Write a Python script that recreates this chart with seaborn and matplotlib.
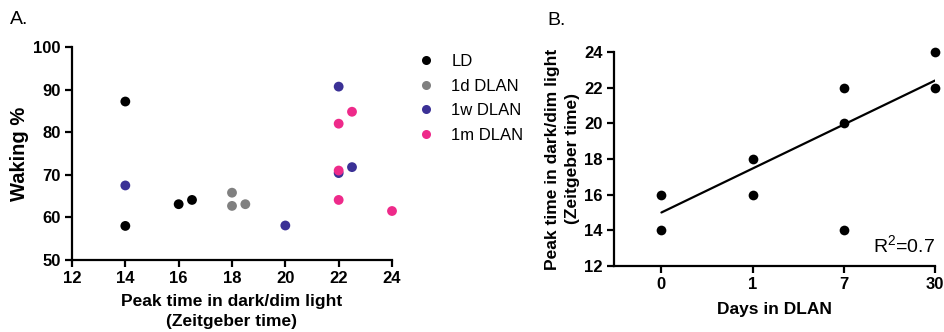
import matplotlib
matplotlib.use("Agg")
import matplotlib.pyplot as plt
import seaborn as sns
import pandas as pd

# Panel A: peak time vs. waking percentage per lighting condition
groups = ["LD", "1d DLAN", "1w DLAN", "1m DLAN"]
ld_peak = [14, 14, 16, 16.5]
ld_wake = [87.2, 58.0, 63.1, 64.1]
d1_peak = [18, 18, 18.5]
d1_wake = [65.8, 62.7, 63.1]
w1_peak = [14, 20, 22, 22, 22.5]
w1_wake = [67.5, 58.1, 90.7, 70.4, 71.8]
m1_peak = [22, 22.5, 22, 22, 24]
m1_wake = [82.0, 84.8, 71.0, 64.1, 61.5]
palette = {"LD": "#000000", "1d DLAN": "#808080",
           "1w DLAN": "#3b3196", "1m DLAN": "#ee2a8a"}

# Panel B: peak time by days in DLAN, with linear fit
days_order = ["0", "1", "7", "30"]
days = ["0", "0", "1", "1", "7", "7", "7", "30", "30"]
peak_time = [16, 14, 18, 16, 22, 20, 14, 24, 22]
fit_x = [0, 3]
fit_y = [15.0, 22.4]
r_squared = 0.7

df_a = pd.DataFrame({
    "peak": ld_peak + d1_peak + w1_peak + m1_peak,
    "wake": ld_wake + d1_wake + w1_wake + m1_wake,
    "group": (["LD"] * len(ld_peak) + ["1d DLAN"] * len(d1_peak)
              + ["1w DLAN"] * len(w1_peak) + ["1m DLAN"] * len(m1_peak)),
})
df_b = pd.DataFrame({"days": days, "peak": peak_time})

sns.set_theme(style="ticks")
plt.rcParams["font.family"] = ["Liberation Sans", "DejaVu Sans"]
plt.rcParams["mathtext.fontset"] = "custom"
plt.rcParams["mathtext.rm"] = "Liberation Sans"
for key in ("text.color", "axes.labelcolor", "xtick.color", "ytick.color",
            "axes.edgecolor"):
    plt.rcParams[key] = "black"

fig = plt.figure(figsize=(9.45, 3.32), dpi=100)
ax_a = fig.add_axes([72 / 945, 1 - 260 / 332, 320 / 945, 213 / 332])
ax_b = fig.add_axes([614 / 945, 1 - 266 / 332, 321 / 945, 214 / 332])

# ---- Panel A ----
sns.scatterplot(data=df_a, x="peak", y="wake", hue="group", hue_order=groups,
                palette=palette, s=50, linewidth=0, ax=ax_a, clip_on=False,
                legend=True)
ax_a.set_xlim(12, 24)
ax_a.set_ylim(50, 100)
ax_a.set_xticks(range(12, 25, 2))
ax_a.set_yticks(range(50, 101, 10))
ax_a.set_xlabel("Peak time in dark/dim light\n(Zeitgeber time)",
                fontsize=12.5, fontweight="bold", labelpad=6, linespacing=1.35)
ax_a.set_ylabel("Waking %", fontsize=14.5, fontweight="bold", labelpad=3)

handles, labels = ax_a.get_legend_handles_labels()
ax_a.get_legend().remove()
for h in handles:
    h.set_markersize(6.5)
fig.legend(handles, labels, loc="upper left",
           bbox_to_anchor=(418 / 945, 1 - 54 / 332), frameon=False,
           fontsize=12, handletextpad=1.0, labelspacing=0.58,
           handlelength=1.0, borderaxespad=0, borderpad=0)

# ---- Panel B ----
sns.stripplot(data=df_b, x="days", y="peak", order=days_order, jitter=False,
              color="black", size=7, linewidth=0, ax=ax_b, clip_on=False)
sns.lineplot(x=fit_x, y=fit_y, color="black", linewidth=1.6, ax=ax_b)
ax_b.set_xlim(-0.52, 3.0)
ax_b.set_ylim(12, 24)
ax_b.set_yticks(range(12, 25, 2))
ax_b.set_xlabel("Days in DLAN", fontsize=12.5, fontweight="bold", labelpad=7)
ax_b.set_ylabel("Peak time in dark/dim light\n(Zeitgeber time)",
                fontsize=12.5, fontweight="bold", labelpad=3, linespacing=1.45)
ax_b.text(1.0, 0.06, "R$^2$=" + str(r_squared), transform=ax_b.transAxes,
          ha="right", va="baseline", fontsize=14)

for ax in (ax_a, ax_b):
    sns.despine(ax=ax)
    for side in ("left", "bottom"):
        ax.spines[side].set_linewidth(1.6)
        ax.spines[side].set_color("black")
    ax.tick_params(axis="both", length=5, width=1.6, color="black",
                   labelcolor="black", labelsize=12, pad=3)
    for lbl in ax.get_xticklabels() + ax.get_yticklabels():
        lbl.set_fontweight("bold")

fig.text(10 / 945, 1 - 11 / 332, "A.", fontsize=14, va="top", ha="left")
fig.text(547 / 945, 1 - 12 / 332, "B.", fontsize=14, va="top", ha="left")

fig.savefig("out.png", dpi=100)
